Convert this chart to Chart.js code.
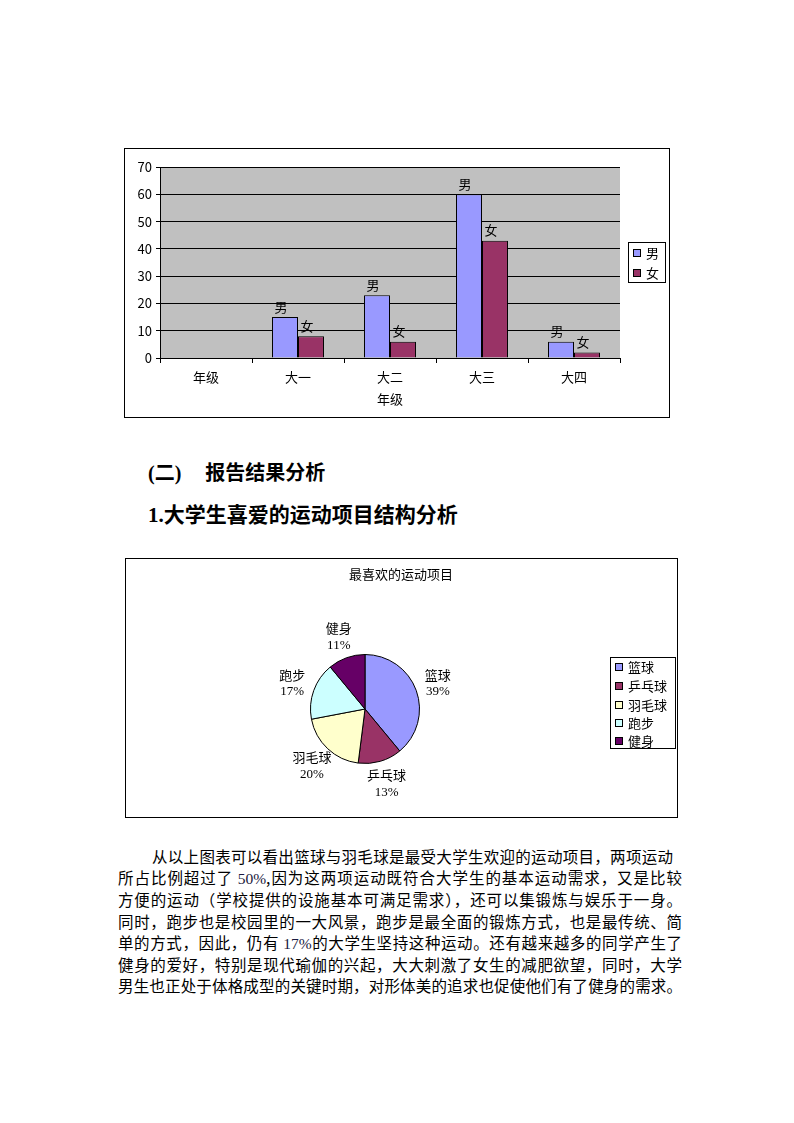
<!DOCTYPE html>
<html>
<head>
<meta charset="utf-8">
<script src="https://cdn.jsdelivr.net/npm/chart.js@4/dist/chart.umd.min.js"></script>
<style>
  body { margin: 0; background: #fff; }
  #page { position: relative; width: 794px; height: 1123px; background: #fff; font-family: "Noto Sans CJK SC", sans-serif; color: #000; }
  .frame { position: absolute; border: 1px solid #000; }
  .frame canvas { display: block; }
  .head { position: absolute; left: 148px; font-weight: bold; font-size: 20px; line-height: 28px; white-space: nowrap; }
  .serif { font-family: "Liberation Serif", serif; }
  #para { position: absolute; left: 118px; top: 846px; width: 564px; font-size: 15.5px; line-height: 21.2px; }
  #para div { text-align: justify; text-align-last: justify; white-space: nowrap; }
  #para .num { font-family: "Liberation Serif", serif; color: #1a1a40; }
</style>
</head>
<body>
<div id="page">
  <div class="frame" style="left:124px; top:148px; width:544px; height:268px;">
    <canvas id="gradeChart" width="544" height="268"></canvas>
  </div>

  <div class="head" style="top:458px;"><span class="serif">(</span>二<span class="serif">)</span><span style="display:inline-block;width:24px;"></span>报告结果分析</div>
  <div class="head" style="top:499px; font-size:21px;"><span class="serif">1.</span>大学生喜爱的运动项目结构分析</div>

  <div class="frame" style="left:125px; top:558px; width:551px; height:258px;">
    <canvas id="sportChart" width="551" height="258"></canvas>
  </div>

  <div id="para">
    <div style="padding-left:34px; padding-right:9px;">从以上图表可以看出篮球与羽毛球是最受大学生欢迎的运动项目，两项运动</div>
    <div>所占比例超过了 <span class="num">50%</span>,因为这两项运动既符合大学生的基本运动需求，又是比较</div>
    <div>方便的运动（学校提供的设施基本可满足需求），还可以集锻炼与娱乐于一身。</div>
    <div>同时，跑步也是校园里的一大风景，跑步是最全面的锻炼方式，也是最传统、简</div>
    <div>单的方式，因此，仍有 <span class="num">17%</span>的大学生坚持这种运动。还有越来越多的同学产生了</div>
    <div>健身的爱好，特别是现代瑜伽的兴起，大大刺激了女生的减肥欲望，同时，大学</div>
    <div>男生也正处于体格成型的关键时期，对形体美的追求也促使他们有了健身的需求。</div>
  </div>
</div>

<script>
// bar chart data
const grades = ["年级", "大一", "大二", "大三", "大四"];
const maleCounts = [null, 15, 23, 60, 6];
const femaleCounts = [null, 8, 6, 43, 2];
const genderLabels = ["男", "女"];
const yMax = 70;
const yStep = 10;

// pie chart data
const sportTitle = "最喜欢的运动项目";
const sports = ["篮球", "乒乓球", "羽毛球", "跑步", "健身"];
const sportShares = [39, 13, 20, 17, 11];

const genderColors = ["#9999FF", "#993366"];
const sportColors = ["#9999FF", "#993366", "#FFFFCC", "#CCFFFF", "#660066"];
const cjk = "'Noto Sans CJK SC', sans-serif";

Chart.defaults.font.family = cjk;
Chart.defaults.font.size = 13;
Chart.defaults.color = "#000";

// grey plot background
const plotBackground = {
    id: "plotBackground",
    beforeDraw(chart) {
        const { ctx, chartArea: a } = chart;
        ctx.save();
        ctx.fillStyle = "#C0C0C0";
        ctx.fillRect(a.left, a.top, a.right - a.left, a.bottom - a.top);
        ctx.restore();
    },
};

// dataset name above each bar
const barNames = {
    id: "barNames",
    afterDatasetsDraw(chart) {
        const ctx = chart.ctx;
        ctx.save();
        ctx.font = "13px " + cjk;
        ctx.fillStyle = "#000";
        ctx.textAlign = "center";
        ctx.textBaseline = "bottom";
        chart.data.datasets.forEach((ds, i) => {
            chart.getDatasetMeta(i).data.forEach((bar, j) => {
                if (ds.data[j] == null) return;
                ctx.fillText(ds.label, bar.x - 4, bar.y - 4);
            });
        });
        ctx.restore();
    },
};

// boxed legend drawn at a fixed spot
function boxLegend(box, rows, texts, colors, swatchX, textX) {
    return {
        id: "boxLegend",
        afterDraw(chart) {
            const ctx = chart.ctx;
            ctx.save();
            ctx.fillStyle = "#fff";
            ctx.fillRect(box[0], box[1], box[2], box[3]);
            ctx.strokeStyle = "#000";
            ctx.lineWidth = 1;
            ctx.strokeRect(box[0] + 0.5, box[1] + 0.5, box[2], box[3]);
            ctx.font = "13px " + cjk;
            ctx.textBaseline = "middle";
            texts.forEach((t, i) => {
                const y = rows[i];
                ctx.fillStyle = colors[i];
                ctx.fillRect(swatchX, y - 4, 8, 8);
                ctx.strokeRect(swatchX + 0.5, y - 3.5, 7, 7);
                ctx.fillStyle = "#000";
                ctx.fillText(t, textX, y);
            });
            ctx.restore();
        },
    };
}

new Chart(document.getElementById("gradeChart"), {
    type: "bar",
    data: {
        labels: grades,
        datasets: [
            { label: genderLabels[0], data: maleCounts, backgroundColor: genderColors[0], borderColor: "#000", borderWidth: 1 },
            { label: genderLabels[1], data: femaleCounts, backgroundColor: genderColors[1], borderColor: "#000", borderWidth: 1 },
        ],
    },
    options: {
        responsive: false,
        animation: false,
        layout: { padding: { left: 0, right: 49, top: 18, bottom: 10 } },
        datasets: { bar: { categoryPercentage: 0.565, barPercentage: 1 } },
        plugins: { legend: { display: false }, tooltip: { enabled: false } },
        scales: {
            x: {
                grid: { drawOnChartArea: false, drawTicks: true, tickLength: 5, color: "#000" },
                border: { color: "#000" },
                ticks: { padding: 6 },
                title: { display: true, text: "年级", padding: { top: 0, bottom: 0 } },
                afterFit(scale) { scale.height = 49; },
            },
            y: {
                min: 0,
                max: yMax,
                ticks: { stepSize: yStep, padding: 4 },
                grid: { color: "#000", tickLength: 4 },
                border: { color: "#000" },
                afterFit(scale) { scale.width = 35; },
            },
        },
    },
    plugins: [plotBackground, barNames, boxLegend([503, 93, 37, 40], [104, 124], genderLabels, genderColors, 508, 521)],
});

// slice name + percent outside the pie
const sliceLabels = {
    id: "sliceLabels",
    afterDatasetsDraw(chart) {
        const ctx = chart.ctx;
        const total = sportShares.reduce((a, b) => a + b, 0);
        ctx.save();
        ctx.fillStyle = "#000";
        ctx.textAlign = "center";
        ctx.textBaseline = "middle";
        chart.getDatasetMeta(0).data.forEach((arc, i) => {
            const mid = (arc.startAngle + arc.endAngle) / 2;
            const r = arc.outerRadius * 1.42;
            const x = arc.x + Math.cos(mid) * r;
            const y = arc.y + Math.sin(mid) * r;
            ctx.font = "13px " + cjk;
            ctx.fillText(chart.data.labels[i], x, y - 8);
            ctx.font = "13px 'Liberation Serif', serif";
            ctx.fillText(Math.round(sportShares[i] / total * 100) + "%", x, y + 9);
        });
        ctx.font = "13px " + cjk;
        ctx.fillText(sportTitle, 275, 15);
        ctx.restore();
    },
};

new Chart(document.getElementById("sportChart"), {
    type: "pie",
    data: {
        labels: sports,
        datasets: [{ data: sportShares, backgroundColor: sportColors, borderColor: "#000", borderWidth: 1 }],
    },
    options: {
        responsive: false,
        animation: false,
        layout: { padding: { left: 184, right: 257, top: 95, bottom: 53 } },
        plugins: { legend: { display: false }, tooltip: { enabled: false } },
    },
    plugins: [sliceLabels, boxLegend([484, 98, 65, 91], [108, 127, 146, 164, 182], sports, sportColors, 489, 502)],
});
</script>
</body>
</html>
